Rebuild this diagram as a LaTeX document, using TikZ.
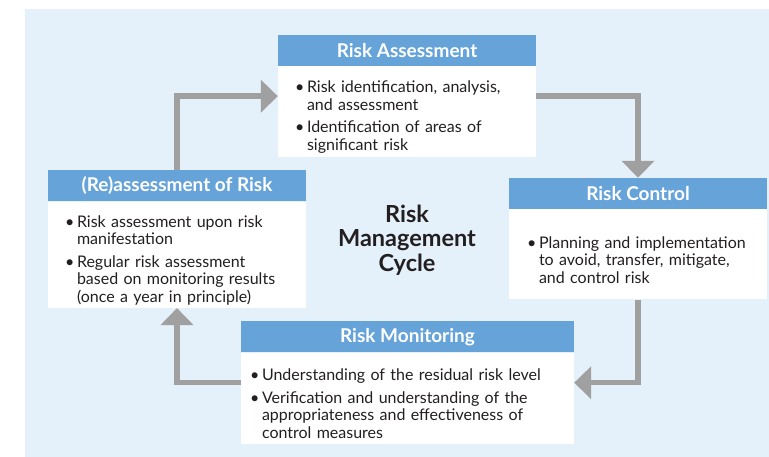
\documentclass[tikz,border=0pt]{standalone}
\usepackage{fontspec}
\setmainfont{Lato}
\usetikzlibrary{positioning}
\usetikzlibrary{arrows.meta}
\definecolor{rbg}{HTML}{E4F0FA}
\definecolor{rhead}{HTML}{66A3D9}
\definecolor{rarrow}{HTML}{A0A0A0}
\definecolor{rtext}{HTML}{231F20}
\newcommand{\ritem}{\par\hangindent=12pt\hangafter=1\noindent\makebox[12pt][l]{\textbullet}}
\tikzset{
  head/.style={fill=rhead, text=white, minimum height=31pt, inner sep=0pt,
    font=\fontsize{19}{22}\selectfont\bfseries},
  bodybox/.style={fill=white, text=rtext, align=left, inner ysep=0pt,
    font=\fontsize{16}{17.5}\selectfont\setlength{\parskip}{5pt}},
  cyc/.style={draw=rarrow, line width=5.5pt, -{Triangle[width=32pt,length=17pt]}},
}

\begin{document}
\begin{tikzpicture}[x=1pt,y=1pt]
\useasboundingbox (0,0) rectangle (769,457);
\fill[rbg] (25,0) rectangle (769,448);

% the four stages
\node[head, minimum width=258pt] (rah) at (407,406.5) {Risk Assessment};
\node[bodybox, below=0pt of rah, text width=224pt, inner xsep=17pt, minimum height=91pt] (ra) {%
\ritem Risk identification, analysis,\newline and assessment
\ritem Identification of areas of\newline significant risk\par};

\node[head, minimum width=258pt] (rch) at (638,263.5) {Risk Control};
\node[bodybox, below=0pt of rch, text width=222pt, inner xsep=18pt, minimum height=90pt] (rc) {%
\ritem Planning and implementation\newline to avoid, transfer, mitigate,\newline and control risk\par};

\node[head, minimum width=333pt] (rmh) at (407.5,120) {Risk Monitoring};
\node[bodybox, below=0pt of rmh, text width=315pt, inner xsep=9pt, minimum height=91pt] (rm) {%
\ritem Understanding of the residual risk level
\ritem Verification and understanding of the\newline appropriateness and effectiveness of\newline control measures\par};

\node[head, minimum width=258pt] (reh) at (177,271) {(Re)assessment of Risk};
\node[bodybox, below=0pt of reh, text width=224pt, inner xsep=17pt, minimum height=106pt] (re) {%
\ritem Risk assessment upon risk\newline manifestation
\ritem Regular risk assessment\newline based on monitoring results\newline (once a year in principle)\par};

\node[text=rtext, align=center, font=\fontsize{23.5}{24.5}\selectfont\bfseries] (cycle) at (407,217) {Risk\\Management\\Cycle};

% the cycle
\draw[cyc] (reh.north) |- ([yshift=-30pt]ra.north west);
\draw[cyc] ([yshift=-30pt]ra.north east) -| (rch.north);
\draw[cyc] (rc.south) |- ([yshift=-30pt]rm.north east);
\draw[cyc] ([yshift=-30pt]rm.north west) -| (re.south);
\end{tikzpicture}
\end{document}
